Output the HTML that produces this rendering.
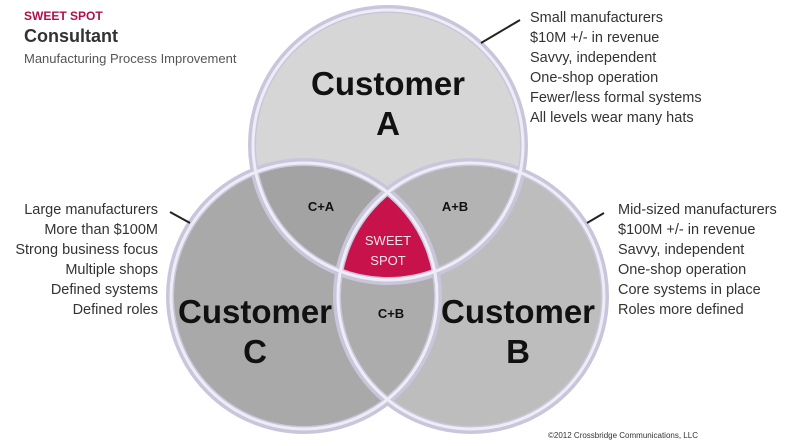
<!DOCTYPE html>
<html><head><meta charset="utf-8"><style>
body{margin:0;background:#fff;}
svg{display:block;font-family:"Liberation Sans",sans-serif;}
</style></head><body>
<svg width="799" height="446" viewBox="0 0 799 446" xmlns="http://www.w3.org/2000/svg">
<defs>
<clipPath id="cA"><circle cx="388" cy="145" r="136"/></clipPath>
<clipPath id="cC"><circle cx="304" cy="296" r="134"/></clipPath>
<clipPath id="cB"><circle cx="471" cy="296" r="134"/></clipPath>
</defs>
<rect width="799" height="446" fill="#fff"/>
<circle cx="388" cy="145" r="136" fill="#d6d6d6"/>
<circle cx="304" cy="296" r="134" fill="#a9a9a9"/>
<circle cx="471" cy="296" r="134" fill="#bdbdbd"/>
<g clip-path="url(#cA)"><circle cx="471" cy="296" r="134" fill="#b3b3b3"/></g>
<g clip-path="url(#cB)"><circle cx="304" cy="296" r="134" fill="#acacac"/></g>
<g clip-path="url(#cA)"><circle cx="304" cy="296" r="134" fill="#a3a3a3"/></g>
<g clip-path="url(#cA)"><g clip-path="url(#cB)"><circle cx="304" cy="296" r="134" fill="#c8124c"/></g></g>
<g fill="none" stroke="#c9c6dc" stroke-width="8">
<circle cx="388" cy="145" r="136"/>
<circle cx="304" cy="296" r="134"/>
<circle cx="471" cy="296" r="134"/>
</g>
<g fill="none" stroke="#eeedf6" stroke-width="3">
<circle cx="388" cy="145" r="135"/>
<circle cx="304" cy="296" r="133"/>
<circle cx="471" cy="296" r="133"/>
</g>
<g stroke="#222" stroke-width="2">
<line x1="481" y1="43" x2="520" y2="20"/>
<line x1="170" y1="212" x2="190" y2="223"/>
<line x1="587" y1="223" x2="604" y2="213"/>
</g>
<g font-weight="bold" fill="#111" text-anchor="middle">
<text x="388" y="95" font-size="33">Customer</text>
<text x="388" y="135" font-size="33">A</text>
<text x="255" y="323" font-size="33">Customer</text>
<text x="255" y="363" font-size="33">C</text>
<text x="518" y="323" font-size="33">Customer</text>
<text x="518" y="363" font-size="33">B</text>
<text x="321" y="211" font-size="13">C+A</text>
<text x="455" y="211" font-size="13">A+B</text>
<text x="391" y="318" font-size="13">C+B</text>
<text x="388" y="245" font-size="13" fill="#fbe3ea" font-weight="normal">SWEET</text>
<text x="388" y="265" font-size="13" fill="#fbe3ea" font-weight="normal">SPOT</text>
</g>
<text x="24" y="20" font-size="12" font-weight="bold" fill="#b0104a">SWEET SPOT</text>
<text x="24" y="42" font-size="18" font-weight="bold" fill="#333">Consultant</text>
<text x="24" y="63" font-size="13" fill="#555">Manufacturing Process Improvement</text>
<g font-size="14.5" fill="#333">
<text x="530" y="22">Small manufacturers</text>
<text x="530" y="42">$10M +/- in revenue</text>
<text x="530" y="62">Savvy, independent</text>
<text x="530" y="82">One-shop operation</text>
<text x="530" y="102">Fewer/less formal systems</text>
<text x="530" y="122">All levels wear many hats</text>
<text x="618" y="214">Mid-sized manufacturers</text>
<text x="618" y="234">$100M +/- in revenue</text>
<text x="618" y="254">Savvy, independent</text>
<text x="618" y="274">One-shop operation</text>
<text x="618" y="294">Core systems in place</text>
<text x="618" y="314">Roles more defined</text>
</g>
<g font-size="14.5" fill="#333" text-anchor="end">
<text x="158" y="214">Large manufacturers</text>
<text x="158" y="234">More than $100M</text>
<text x="158" y="254">Strong business focus</text>
<text x="158" y="274">Multiple shops</text>
<text x="158" y="294">Defined systems</text>
<text x="158" y="314">Defined roles</text>
</g>
<text x="548" y="438" font-size="8" fill="#333">©2012 Crossbridge Communications, LLC</text>
</svg>
</body></html>
